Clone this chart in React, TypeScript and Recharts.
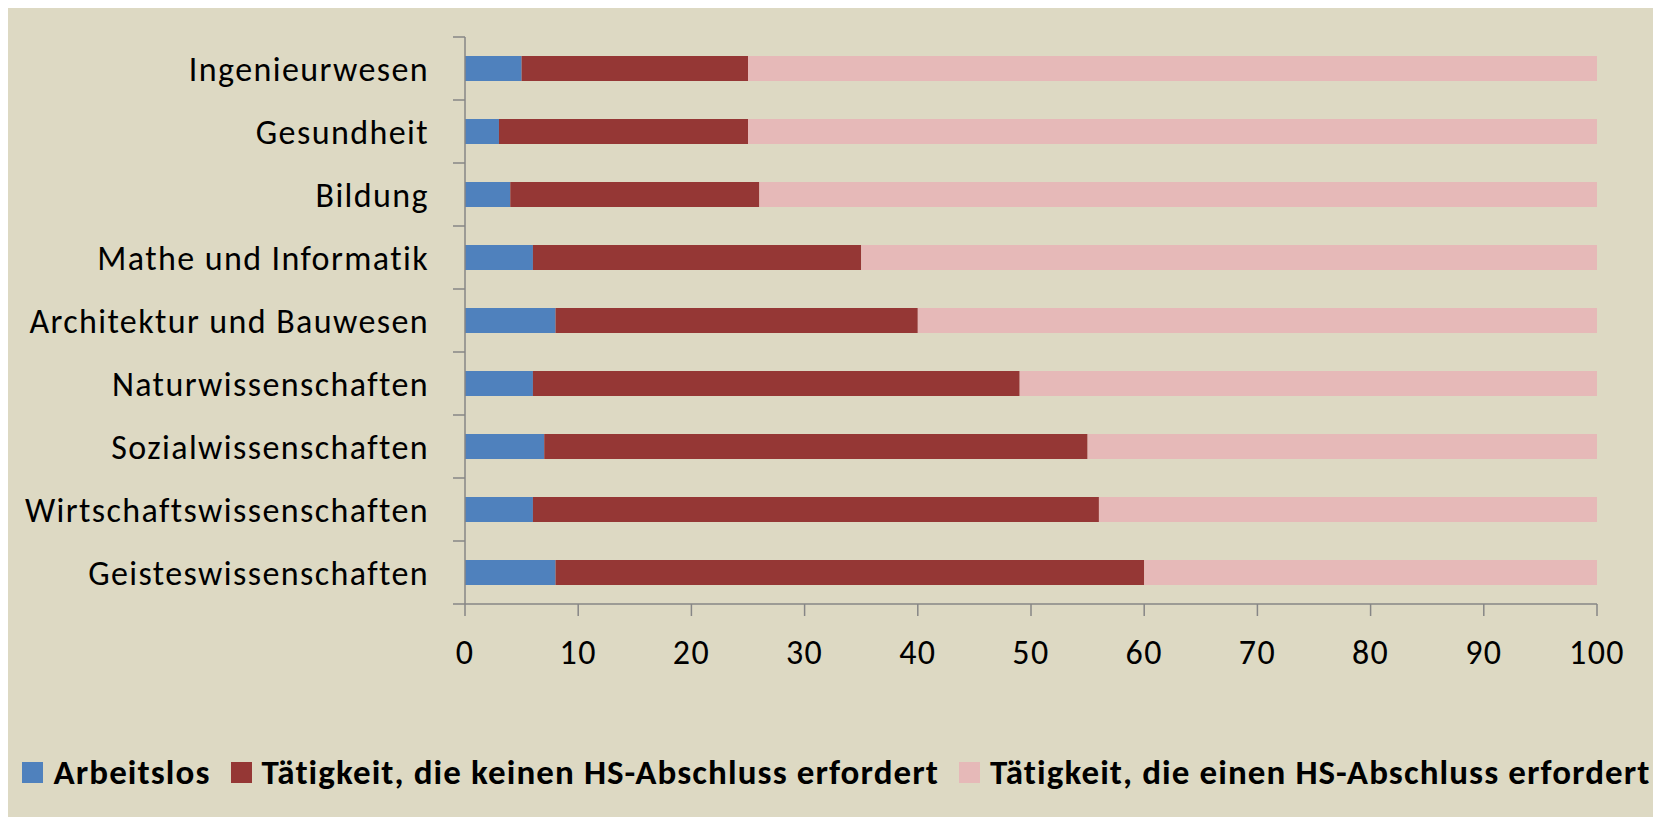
import { BarChart, Bar, XAxis, YAxis, Legend } from 'recharts';

const categories = [
    'Ingenieurwesen',
    'Gesundheit',
    'Bildung',
    'Mathe und Informatik',
    'Architektur und Bauwesen',
    'Naturwissenschaften',
    'Sozialwissenschaften',
    'Wirtschaftswissenschaften',
    'Geisteswissenschaften',
];
const arbeitslos = [5, 3, 4, 6, 8, 6, 7, 6, 8];
const ohneAbschluss = [20, 22, 22, 29, 32, 43, 48, 50, 52];
const mitAbschluss = [75, 75, 74, 65, 60, 51, 45, 44, 40];
const xTicks = [0, 10, 20, 30, 40, 50, 60, 70, 80, 90, 100];

const seriesNames = [
    'Arbeitslos',
    'Tätigkeit, die keinen HS-Abschluss erfordert',
    'Tätigkeit, die einen HS-Abschluss erfordert',
];
const seriesColors = ['#4F81BD', '#953735', '#E6B9B8'];

const FONT = 'Carlito, Calibri, Lato, sans-serif';
const AXIS = '#868686';

const W = 1648;
const H = 809;
const MARGIN = { top: 29, right: 58, left: 18, bottom: 20 };
const X_AXIS_H = 143;
const LEGEND_H = 50;
const TICK_SIZE = 12;
const TICK_MARGIN = 24;

// Excel puts the category ticks between the bars, not at their centres
const band = (H - MARGIN.top - MARGIN.bottom - X_AXIS_H - LEGEND_H) / categories.length;

const data = categories.map((name, i) => ({
    name,
    arbeitslos: arbeitslos[i],
    ohne: ohneAbschluss[i],
    mit: mitAbschluss[i],
}));

const CategoryTick = ({ x, y, payload, index }: any) => {
    const axisX = x + TICK_MARGIN + TICK_SIZE;
    const tickProps = { stroke: AXIS, strokeWidth: 1.5 };
    return (
        <g>
            <line x1={axisX - TICK_SIZE} x2={axisX} y1={y - band / 2} y2={y - band / 2} {...tickProps} />
            {index === categories.length - 1 && (
                <line x1={axisX - TICK_SIZE} x2={axisX} y1={y + band / 2} y2={y + band / 2} {...tickProps} />
            )}
            <text
                x={x}
                y={y}
                dy="0.355em"
                textAnchor="end"
                fill="#000"
                fontSize={34}
                fontFamily={FONT}
                letterSpacing={1.4}
            >
                {payload.value}
            </text>
        </g>
    );
};

const renderLegend = () => (
    <div
        style={{
            display: 'flex',
            justifyContent: 'center',
            alignItems: 'center',
            height: LEGEND_H,
            paddingLeft: 11,
            fontFamily: FONT,
            fontWeight: 700,
            fontSize: 35,
            letterSpacing: 1.1,
            color: '#000',
            whiteSpace: 'nowrap',
        }}
    >
        {seriesNames.map((label, i) => (
            <span key={label} style={{ display: 'flex', alignItems: 'center', marginLeft: i === 0 ? 0 : 20 }}>
                <span style={{ width: 21, height: 21, background: seriesColors[i], display: 'inline-block', marginRight: 10 }} />
                {label}
            </span>
        ))}
    </div>
);

export default function App() {
    return (
        <div style={{ width: W, height: H, marginLeft: -1, background: '#DDD9C3' }}>
            <BarChart width={W} height={H} data={data} layout="vertical" margin={MARGIN}>
                <XAxis
                    type="number"
                    domain={[0, 100]}
                    ticks={xTicks}
                    interval={0}
                    height={X_AXIS_H}
                    tickSize={TICK_SIZE}
                    tickMargin={TICK_MARGIN}
                    axisLine={{ stroke: AXIS, strokeWidth: 1.5 }}
                    tickLine={{ stroke: AXIS, strokeWidth: 1.5 }}
                    tick={{ fill: '#000', fontSize: 34, fontFamily: FONT, letterSpacing: 1.4 }}
                />
                <YAxis
                    type="category"
                    dataKey="name"
                    width={440}
                    interval={0}
                    tickSize={TICK_SIZE}
                    tickMargin={TICK_MARGIN}
                    axisLine={{ stroke: AXIS, strokeWidth: 1.5 }}
                    tickLine={false}
                    tick={<CategoryTick />}
                />
                <Legend
                    verticalAlign="bottom"
                    content={renderLegend}
                    wrapperStyle={{ left: 0, width: W, height: LEGEND_H }}
                />
                <Bar dataKey="arbeitslos" name={seriesNames[0]} stackId="a" fill={seriesColors[0]} barSize={25} isAnimationActive={false} />
                <Bar dataKey="ohne" name={seriesNames[1]} stackId="a" fill={seriesColors[1]} barSize={25} isAnimationActive={false} />
                <Bar dataKey="mit" name={seriesNames[2]} stackId="a" fill={seriesColors[2]} barSize={25} isAnimationActive={false} />
            </BarChart>
        </div>
    );
}
